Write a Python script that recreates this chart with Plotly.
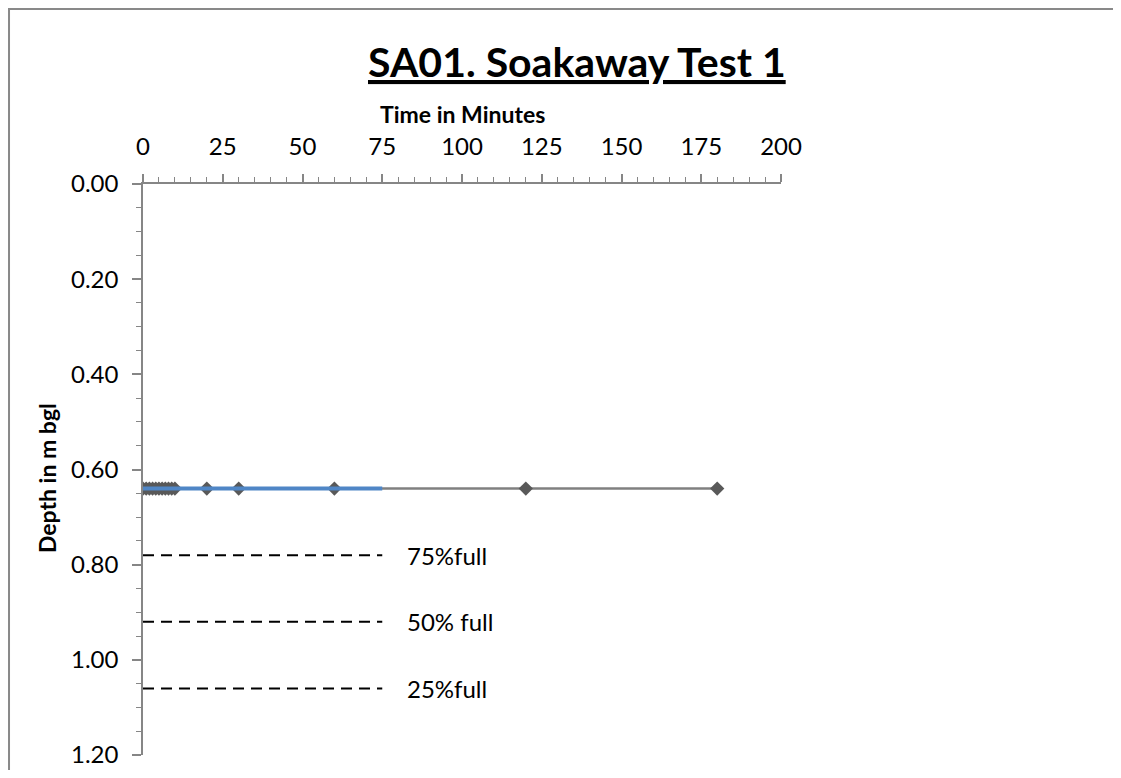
import plotly.graph_objects as go

# ---- data ----
time_min = [0, 1, 2, 3, 4, 5, 6, 7, 8, 9, 10, 20, 30, 60, 120, 180]
depth_m = [0.64] * len(time_min)

trend_x = [0, 75]
trend_y = [0.64, 0.64]

level_x = [0, 75]
level_depths = [0.78, 0.92, 1.06]
level_labels = ["75%full", "50% full", "25%full"]
label_x = 82

x_ticks = [0, 25, 50, 75, 100, 125, 150, 175, 200]
y_ticks = [0.0, 0.2, 0.4, 0.6, 0.8, 1.0, 1.2]

FONT = "Lato"
AX = "#868686"

fig = go.Figure()

fig.add_trace(go.Scatter(
    x=time_min, y=depth_m, mode="lines+markers",
    line=dict(color="#808080", width=2.5),
    marker=dict(symbol="diamond", size=11, color="#595959"),
    hoverinfo="skip"))

fig.add_trace(go.Scatter(
    x=trend_x, y=trend_y, mode="lines",
    line=dict(color="#4f86c6", width=4), hoverinfo="skip"))

for d in level_depths:
    fig.add_trace(go.Scatter(
        x=level_x, y=[d, d], mode="lines",
        line=dict(color="black", width=2, dash="11px,7px"), hoverinfo="skip"))

for d, t in zip(level_depths, level_labels):
    fig.add_annotation(x=label_x, y=d, xref="x", yref="y", text=t,
                       showarrow=False, xanchor="left", yanchor="middle",
                       font=dict(family=FONT, size=24, color="black"))

# plot area: top at 176, height 571
fig.add_annotation(x=1.011, y=1.214, xref="paper", yref="paper",
                   text="<b><u>SA01. Soakaway Test 1</u></b>", showarrow=False,
                   xanchor="right", yanchor="middle",
                   font=dict(family=FONT, size=41, color="black"))

fig.add_annotation(x=0.5, y=1.122, xref="paper", yref="paper",
                   text="<b>Time in Minutes</b>", showarrow=False,
                   xanchor="center", yanchor="middle",
                   font=dict(family=FONT, size=23, color="black"))

fig.add_annotation(x=-0.1505, y=0.485, xref="paper", yref="paper",
                   text="<b>Depth in m bgl</b>", showarrow=False, textangle=-90,
                   xanchor="center", yanchor="middle",
                   font=dict(family=FONT, size=23, color="black"))

fig.add_shape(type="path", xref="paper", yref="paper",
              path="M 1.6,1.3065 L -0.210,1.3065 L -0.210,-0.1",
              line=dict(color="#898989", width=2), layer="above")

fig.update_xaxes(
    side="top", range=[0, 200], tickvals=x_ticks, automargin=False,
    ticks="outside", ticklen=8, tickwidth=1.5, tickcolor=AX,
    showline=True, linecolor=AX, linewidth=1.5,
    showgrid=False, zeroline=False, ticklabelstandoff=10,
    minor=dict(dtick=5, tick0=0, ticks="outside", ticklen=5, tickcolor=AX, tickwidth=1.2, showgrid=False),
    tickfont=dict(family=FONT, size=24, color="black"))

fig.update_yaxes(
    range=[1.2, 0], tickvals=y_ticks, tickformat=".2f", automargin=False,
    ticks="outside", ticklen=9, tickwidth=1.5, tickcolor=AX,
    showline=True, linecolor=AX, linewidth=1.5,
    showgrid=False, zeroline=False, ticklabelstandoff=9,
    minor=dict(dtick=0.05, tick0=0, ticks="outside", ticklen=5, tickcolor=AX, tickwidth=1.2, showgrid=False),
    tickfont=dict(family=FONT, size=24, color="black"))

fig.update_layout(
    width=1105, height=762,
    margin=dict(l=135, r=332, t=176, b=15),
    paper_bgcolor="white", plot_bgcolor="white",
    showlegend=False)

fig.write_html("out.html")
